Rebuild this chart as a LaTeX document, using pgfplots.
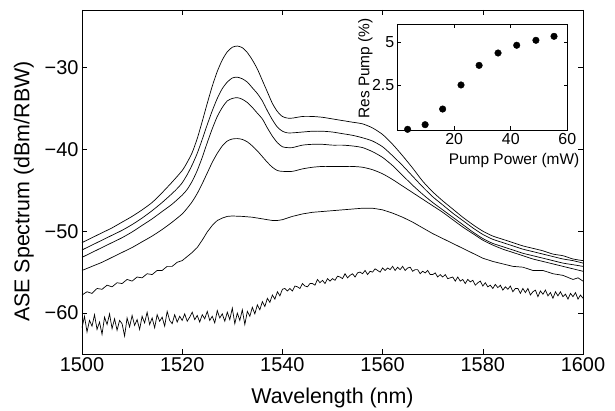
\documentclass[border=0pt]{standalone}
\usepackage{pgfplots}
\pgfplotsset{compat=1.18}
\usepackage{fontspec}
\setmainfont{Liberation Sans}
\begin{document}
\begin{tikzpicture}
\useasboundingbox (-82bp,-57bp) rectangle (533bp,354bp);
\begin{axis}[
  at={(0,0)}, anchor=south west, scale only axis,
  width=501bp, height=344bp,
  xmin=1500, xmax=1600, ymin=-65, ymax=-23,
  xtick={1500,1520,1540,1560,1580,1600},
  ytick={-60,-50,-40,-30},
  yticklabels={−60,−50,−40,−30},
  tick align=inside, major tick length=5bp,
  axis line style={line width=0.8pt},
  every tick/.style={black, line width=0.6pt},
  tick label style={font=\fontsize{20}{24}\selectfont},
  xticklabel style={/pgf/number format/1000 sep={}},
  /pgf/number format/assume math mode=true,
  label style={font=\fontsize{21.5}{25}\selectfont},
  xlabel={Wavelength (nm)},
  ylabel={ASE Spectrum (dBm/RBW)},
  xlabel style={at={(axis description cs:0.5,-0.145)}, anchor=base},
  ylabel style={at={(axis description cs:-0.116,0.472)}, anchor=center, rotate=0},
]
% curve 1
\addplot[black, line width=0.7pt, smooth, tension=0.4] coordinates {
(1500,-51.4)(1502,-50.8)(1504,-50.2)(1506,-49.6)(1508,-48.9)(1510,-48.2)(1512,-47.4)(1514,-46.5)(1516,-45.3)(1518,-44.0)
(1520,-42.6)(1521,-41.6)(1522,-40.4)(1523,-38.7)(1524,-36.6)(1525,-34.4)(1526,-32.3)(1527,-30.5)(1528,-29.1)(1529,-28.1)
(1530,-27.55)(1531,-27.4)(1532,-27.6)(1533,-28.2)(1534,-29.1)(1535,-30.2)(1536,-31.6)(1537,-33.0)(1538,-34.4)(1539,-35.4)
(1540,-36.0)(1541,-36.2)(1542,-36.2)(1544,-36.0)(1546,-36.0)(1548,-36.1)(1550,-36.3)(1552,-36.5)(1554,-36.7)(1556,-36.9)
(1558,-37.4)(1560,-38.2)(1562,-39.4)(1564,-40.8)(1566,-42.3)(1568,-43.9)(1570,-45.2)(1572,-46.3)(1574,-47.3)(1576,-48.3)
(1578,-49.2)(1580,-50.0)(1582,-50.6)(1584,-51.0)(1586,-51.4)(1588,-51.8)(1590,-52.1)(1592,-52.4)(1594,-52.8)(1596,-53.0)
(1598,-53.4)(1600,-53.6)};
% curve 2
\addplot[black, line width=0.7pt, smooth, tension=0.4] coordinates {
(1500,-52.3)(1502,-51.7)(1504,-51.1)(1506,-50.5)(1508,-49.9)(1510,-49.2)(1512,-48.4)(1514,-47.5)(1516,-46.5)(1518,-45.4)
(1519,-44.8)(1520,-44.1)(1521,-43.1)(1522,-41.9)(1523,-40.5)(1524,-38.8)(1525,-37.0)(1526,-35.3)(1527,-33.8)(1528,-32.6)
(1529,-31.8)(1530,-31.3)(1531,-31.2)(1532,-31.4)(1533,-31.8)(1534,-32.5)(1535,-33.2)(1536,-34.1)(1537,-35.3)(1538,-36.4)
(1539,-37.3)(1540,-37.8)(1541,-38.0)(1542,-38.0)(1544,-37.9)(1546,-37.8)(1548,-37.8)(1550,-37.9)(1552,-38.1)(1554,-38.3)
(1556,-38.6)(1558,-39.0)(1560,-39.7)(1562,-40.8)(1564,-42.0)(1566,-43.3)(1568,-44.6)(1570,-45.8)(1572,-46.8)(1574,-47.8)
(1576,-48.7)(1578,-49.6)(1580,-50.4)(1582,-51.0)(1584,-51.4)(1586,-51.8)(1588,-52.2)(1590,-52.5)(1592,-52.8)(1594,-53.1)
(1596,-53.4)(1598,-53.6)(1600,-53.9)};
% curve 3
\addplot[black, line width=0.7pt, smooth, tension=0.4] coordinates {
(1500,-53.2)(1502,-52.6)(1504,-52.0)(1506,-51.4)(1508,-50.8)(1510,-50.1)(1512,-49.3)(1514,-48.5)(1516,-47.6)(1518,-46.7)
(1520,-45.6)(1521,-44.9)(1522,-43.9)(1523,-42.6)(1524,-41.0)(1525,-39.2)(1526,-37.5)(1527,-36.0)(1528,-34.9)(1529,-34.1)
(1530,-33.8)(1531,-33.7)(1532,-33.9)(1533,-34.3)(1534,-34.9)(1535,-35.6)(1536,-36.3)(1537,-37.4)(1538,-38.4)(1539,-39.2)
(1540,-39.7)(1541,-39.8)(1542,-39.8)(1544,-39.5)(1546,-39.4)(1548,-39.4)(1550,-39.5)(1552,-39.5)(1554,-39.6)(1556,-39.8)
(1558,-40.3)(1560,-41.0)(1562,-42.0)(1564,-43.2)(1566,-44.4)(1568,-45.5)(1570,-46.5)(1572,-47.4)(1574,-48.3)(1576,-49.2)
(1578,-50.1)(1580,-50.9)(1582,-51.5)(1584,-51.9)(1586,-52.3)(1588,-52.7)(1590,-53.0)(1592,-53.3)(1594,-53.6)(1596,-53.9)
(1598,-54.1)(1600,-54.3)};
% curve 4
\addplot[black, line width=0.7pt, smooth, tension=0.4] coordinates {
(1500,-54.8)(1502,-54.3)(1504,-53.8)(1506,-53.2)(1508,-52.6)(1510,-52.0)(1512,-51.3)(1514,-50.6)(1516,-49.8)(1518,-48.9)
(1520,-47.9)(1521,-47.2)(1522,-46.4)(1523,-45.4)(1524,-44.2)(1525,-42.9)(1526,-41.6)(1527,-40.5)(1528,-39.6)(1529,-39.0)
(1530,-38.75)(1531,-38.7)(1532,-38.8)(1533,-39.1)(1534,-39.6)(1535,-40.2)(1536,-40.9)(1537,-41.6)(1538,-42.2)(1539,-42.6)
(1540,-42.7)(1542,-42.7)(1544,-42.4)(1546,-42.2)(1548,-42.1)(1550,-42.1)(1552,-42.1)(1554,-42.1)(1556,-42.2)(1558,-42.5)
(1560,-43.0)(1562,-43.7)(1564,-44.5)(1566,-45.3)(1568,-46.1)(1570,-46.9)(1572,-47.7)(1574,-48.6)(1576,-49.5)(1578,-50.3)
(1580,-51.1)(1582,-51.7)(1584,-52.2)(1586,-52.6)(1588,-53.0)(1590,-53.4)(1592,-53.7)(1594,-54.0)(1596,-54.3)(1598,-54.6)
(1600,-54.9)};
% curve 5
\addplot[black, line width=0.7pt] coordinates {
(1500,-57.8)(1501,-57.4)(1502,-57.6)(1503,-57.0)(1504,-57.1)(1505,-56.6)(1506,-56.8)(1507,-56.3)(1508,-56.4)(1509,-55.9)
(1510,-56.1)(1511,-55.6)(1512,-55.7)(1513,-55.2)(1514,-55.3)(1515,-54.8)(1516,-54.8)(1517,-54.3)(1518,-54.3)(1519,-53.8)
(1520,-53.6)(1521,-53.1)(1522,-52.6)(1523,-52.0)(1524,-51.1)(1525,-50.1)(1526,-49.3)(1527,-48.7)(1528,-48.4)(1529,-48.2)
(1530,-48.15)(1532,-48.2)(1534,-48.3)(1536,-48.5)(1538,-48.7)(1539,-48.7)(1540,-48.6)(1542,-48.2)(1544,-47.9)(1546,-47.7)
(1548,-47.6)(1550,-47.5)(1552,-47.4)(1554,-47.3)(1556,-47.2)(1558,-47.2)(1560,-47.4)(1562,-47.8)(1564,-48.3)(1566,-48.9)
(1568,-49.6)(1570,-50.3)(1572,-50.9)(1574,-51.5)(1576,-52.1)(1578,-52.7)(1580,-53.3)(1582,-53.7)(1584,-54.0)(1586,-54.3)
(1588,-54.4)(1590,-54.8)(1592,-54.8)(1594,-55.2)(1596,-55.4)(1598,-55.9)(1599,-55.7)(1600,-56.1)};
% curve 6 (noisy)
\addplot[black, line width=0.7pt] coordinates {
(1500.0,-61.8)(1500.5,-60.4)(1501.0,-62.3)(1501.5,-60.9)(1502.0,-61.6)(1502.5,-60.2)(1503.0,-62.0)(1503.5,-61.1)(1504.0,-62.6)(1504.5,-60.5)
(1505.0,-61.4)(1505.5,-60.1)(1506.0,-61.9)(1506.5,-60.7)(1507.0,-62.1)(1507.5,-60.9)(1508.0,-61.3)(1508.5,-62.8)(1509.0,-60.6)(1509.5,-61.7)
(1510.0,-60.3)(1510.5,-61.5)(1511.0,-60.8)(1511.5,-62.0)(1512.0,-60.4)(1512.5,-61.2)(1513.0,-59.9)(1513.5,-61.4)(1514.0,-60.6)(1514.5,-61.8)
(1515.0,-60.2)(1515.5,-61.0)(1516.0,-60.5)(1516.5,-61.6)(1517.0,-59.8)(1517.5,-60.9)(1518.0,-61.3)(1518.5,-60.2)(1519.0,-61.1)(1519.5,-60.4)
(1520.0,-60.9)(1520.5,-60.1)(1521.0,-61.0)(1521.5,-60.5)(1522.0,-59.9)(1522.5,-60.8)(1523.0,-60.3)(1523.5,-61.1)(1524.0,-60.2)(1524.5,-60.7)
(1525.0,-59.8)(1525.5,-60.9)(1526.0,-60.4)(1526.5,-61.2)(1527.0,-59.7)(1527.5,-60.6)(1528.0,-60.1)(1528.5,-61.0)(1529.0,-59.9)(1529.5,-60.8)
(1530.0,-59.4)(1530.5,-61.3)(1531.0,-60.0)(1531.5,-60.9)(1532.0,-59.6)(1532.5,-61.4)(1533.0,-59.8)(1533.5,-60.4)(1534.0,-59.3)(1534.5,-60.1)
(1535.0,-59.0)(1535.5,-59.6)(1536.0,-58.6)(1536.5,-59.2)(1537.0,-58.2)(1537.5,-58.7)(1538.0,-57.8)(1538.5,-58.3)(1539.0,-57.4)(1539.5,-57.9)
(1540.0,-57.1)
(1540.5,-57.0)(1541.0,-57.3)(1541.5,-57.0)(1542.0,-57.3)(1542.5,-56.7)(1543.0,-56.8)(1543.5,-57.0)(1544.0,-56.4)(1544.5,-56.7)(1545.0,-56.8)
(1545.5,-56.4)(1546.0,-56.4)(1546.5,-56.6)(1547.0,-55.9)(1547.5,-56.3)(1548.0,-56.0)(1548.5,-56.4)(1549.0,-55.8)(1549.5,-56.1)(1550.0,-55.8)
(1550.5,-56.0)(1551.0,-55.5)(1551.5,-55.6)(1552.0,-55.8)(1552.5,-55.2)(1553.0,-55.7)(1553.5,-55.4)(1554.0,-55.2)(1554.5,-55.6)(1555.0,-55.1)
(1555.5,-55.0)(1556.0,-55.2)(1556.5,-54.8)(1557.0,-55.3)(1557.5,-54.9)(1558.0,-55.0)(1558.5,-54.6)(1559.0,-54.8)(1559.5,-55.0)(1560.0,-54.5)
(1560.5,-54.8)(1561.0,-54.5)(1561.5,-54.7)(1562.0,-54.3)(1562.5,-54.8)(1563.0,-54.4)(1563.5,-54.7)(1564.0,-54.3)(1564.5,-54.8)(1565.0,-54.5)
(1565.5,-54.4)(1566.0,-54.9)(1566.5,-54.7)(1567.0,-54.7)(1567.5,-55.2)(1568.0,-54.9)(1568.5,-55.1)(1569.0,-54.8)(1569.5,-55.3)(1570.0,-55.3)
(1570.5,-55.1)(1571.0,-55.6)(1571.5,-55.3)(1572.0,-55.6)(1572.5,-55.3)(1573.0,-55.8)(1573.5,-55.7)(1574.0,-55.6)(1574.5,-56.1)(1575.0,-55.6)
(1575.5,-56.1)(1576.0,-55.9)(1576.5,-56.4)(1577.0,-55.9)(1577.5,-56.2)(1578.0,-56.0)(1578.5,-56.6)(1579.0,-56.3)(1579.5,-56.1)(1580.0,-56.7)
(1580.5,-56.3)(1581.0,-56.8)(1581.5,-56.6)(1582.0,-57.0)(1582.5,-56.5)(1583.0,-56.9)(1583.5,-56.6)(1584.0,-57.2)(1584.5,-56.8)(1585.0,-57.1)
(1585.5,-56.7)(1586.0,-57.4)(1586.5,-57.0)(1587.0,-57.0)(1587.5,-57.6)(1588.0,-57.0)(1588.5,-57.5)(1589.0,-57.0)(1589.5,-57.8)(1590.0,-57.4)
(1590.5,-57.2)(1591.0,-58.0)(1591.5,-57.3)(1592.0,-57.7)(1592.5,-57.2)(1593.0,-57.9)(1593.5,-57.5)(1594.0,-58.2)(1594.5,-57.4)(1595.0,-57.9)
(1595.5,-57.4)(1596.0,-58.0)(1596.5,-57.7)(1597.0,-58.3)(1597.5,-57.6)(1598.0,-58.0)(1598.5,-57.5)(1599.0,-58.3)(1599.5,-57.8)(1600.0,-58.2)};
\end{axis}
\begin{axis}[
  at={(315.7bp,224bp)}, anchor=south west, scale only axis,
  width=169.6bp, height=105.7bp,
  xmin=0, xmax=60, ymin=-0.12, ymax=6.03,
  xtick={20,40,60}, ytick={2.5,5},
  yticklabels={2.5,5},
  tick align=inside, major tick length=3.5bp,
  axis line style={line width=0.8pt},
  every tick/.style={black, line width=0.6pt},
  axis background/.style={fill=white},
  tick label style={font=\fontsize{16}{19}\selectfont},
  /pgf/number format/assume math mode=true,
  label style={font=\fontsize{15.5}{18}\selectfont},
  xlabel={Pump Power (mW)},
  ylabel={Res Pump (\%)},
  xlabel style={at={(axis description cs:0.686,-0.326)}, anchor=base},
  ylabel style={at={(axis description cs:-0.19,0.582)}, anchor=center, rotate=0},
]
\addplot[only marks, mark=*, mark size=3.3bp, black] coordinates {
(3.5,-0.08)(9.7,0.19)(15.9,1.10)(22.4,2.5)(28.8,3.64)(35.5,4.36)(42.1,4.81)(48.9,5.10)(55.3,5.33)};
\end{axis}
\end{tikzpicture}
\end{document}
